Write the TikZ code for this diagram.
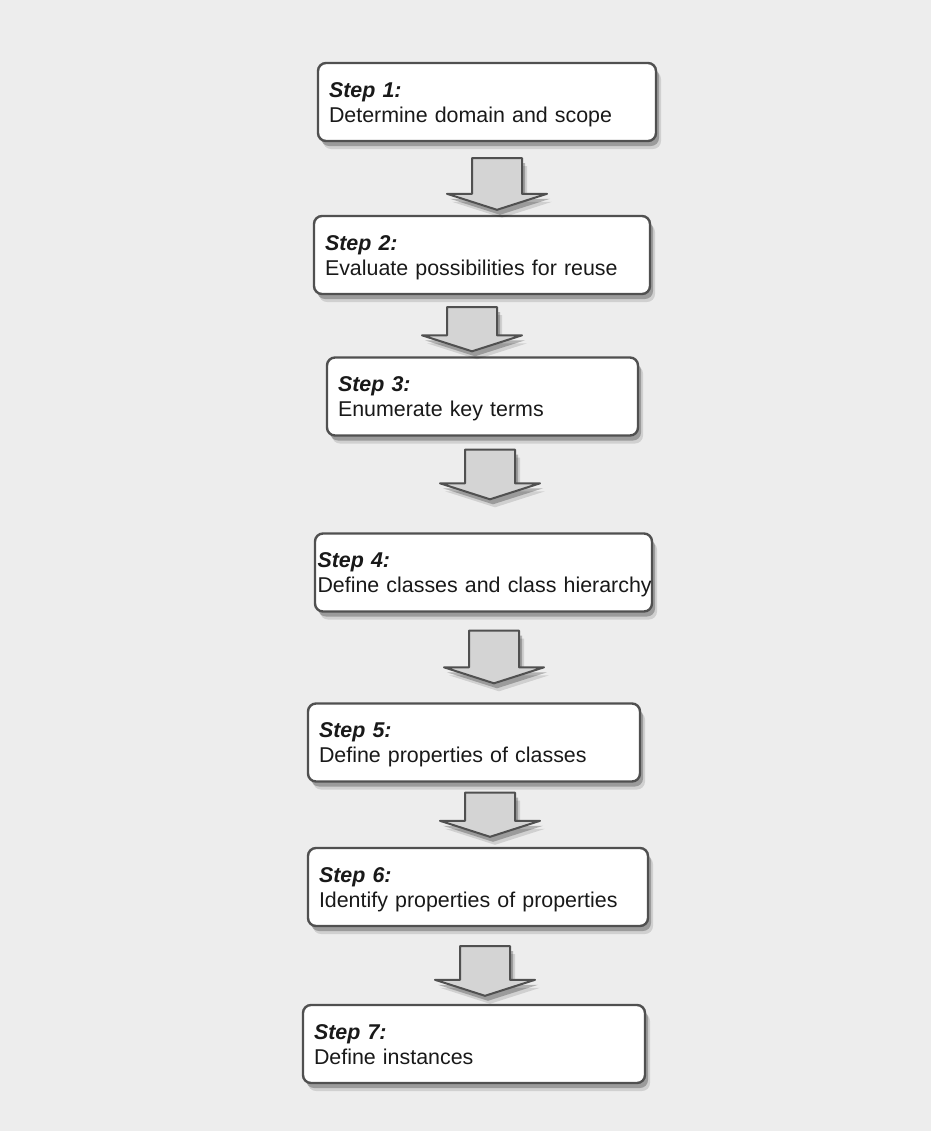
\documentclass[tikz,border=0pt]{standalone}
\usepackage{fontspec}
\setmainfont{Liberation Sans}
\usetikzlibrary{calc,shadows}

\definecolor{pagegray}{HTML}{EDEDED}
\definecolor{boxline}{HTML}{505050}
\definecolor{arrowfill}{HTML}{D4D4D4}

% block arrow from the top of its shaft (#1) down to the level of its tip (#2)
\newcommand{\blockarrow}[2]{%
  \draw[blockarrow] let \p1=(#1), \p2=(#2) in
    (\x1-12.5pt,\y1) -- (\x1+12.5pt,\y1) -- (\x1+12.5pt,\y2+8pt) -- (\x1+25pt,\y2+8pt)
    -- (\x1,\y2) -- (\x1-25pt,\y2+8pt) -- (\x1-12.5pt,\y2+8pt) -- cycle;}

\begin{document}
\begin{tikzpicture}[x=0.5pt, y=-0.5pt, thick,
	softshadow/.style={drop shadow={shadow xshift=2.5pt, shadow yshift=-4pt, opacity=0.12, fill=black},
		drop shadow={shadow xshift=1.5pt, shadow yshift=-2.5pt, opacity=0.25, fill=black}},
	stepbox/.style={draw=boxline, line width=1.2pt, fill=white, rounded corners=4pt,
		minimum height=39pt, inner ysep=0pt, text height=8pt, text depth=13pt,
		align=left, text=black!90, font=\fontsize{10.7}{12.5}\selectfont, softshadow},
	blockarrow/.style={draw=boxline, line width=1pt, fill=arrowfill, line join=round, softshadow}]
	% Nền trang giấy
	\fill[pagegray] (0,0) rectangle (931,1131);
	\useasboundingbox (0,0) rectangle (931,1131);
	% Các bước
	\node[stepbox, text width=158pt, inner xsep=5.5pt] (s1) at (487,102) {\textbf{\textit{Step 1:}}\\Determine domain and scope};
	\node[stepbox, text width=157pt, inner xsep=5.5pt] (s2) at (482,255) {\textbf{\textit{Step 2:}}\\Evaluate possibilities for reuse};
	\node[stepbox, text width=144.5pt, inner xsep=5.5pt] (s3) at (482.5,396.5) {\textbf{\textit{Step 3:}}\\Enumerate key terms};
	\node[stepbox, text width=166pt, inner xsep=1.25pt] (s4) at (483.5,572.5) {\textbf{\textit{Step 4:}}\\\mbox{Define classes and class hierarchy}};
	\node[stepbox, text width=155pt, inner xsep=5.5pt] (s5) at (474,742.5) {\textbf{\textit{Step 5:}}\\Define properties of classes};
	\node[stepbox, text width=159pt, inner xsep=5.5pt] (s6) at (478,887) {\textbf{\textit{Step 6:}}\\Identify properties of properties};
	\node[stepbox, text width=160pt, inner xsep=5.5pt] (s7) at (474,1044) {\textbf{\textit{Step 7:}}\\Define instances};
	% Các mũi tên khối nối các bước
	\blockarrow{$(s1.south)+(10,16)$}{$(s2.north)+(0,-5)$}
	\blockarrow{$(s2.south)+(-10,12)$}{$(s3.north)+(0,-5)$}
	\blockarrow{$(s3.south)+(7.5,13)$}{$(s4.north)+(0,-33)$}
	\blockarrow{$(s4.south)+(10.5,18)$}{$(s5.north)+(0,-19)$}
	\blockarrow{$(s5.south)+(16,10)$}{$(s6.north)+(0,-10)$}
	\blockarrow{$(s6.south)+(7,19)$}{$(s7.north)+(0,-8)$}
\end{tikzpicture}
\end{document}
